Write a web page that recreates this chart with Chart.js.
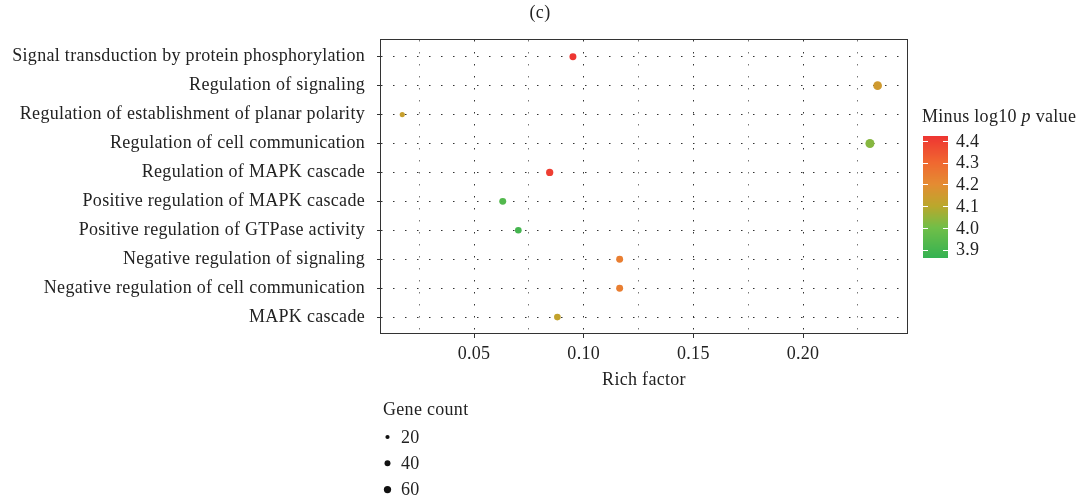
<!DOCTYPE html>
<html><head><meta charset="utf-8">
<script src="https://cdn.jsdelivr.net/npm/chart.js@4"></script>
<style>html,body{margin:0;padding:0;background:#fff}#wrap{width:1079px;height:500px;position:relative}</style>
</head><body><div id="wrap"><canvas id="c" width="1079" height="500"></canvas></div>
<script>
const categories = [
  "Signal transduction by protein phosphorylation",
  "Regulation of signaling",
  "Regulation of establishment of planar polarity",
  "Regulation of cell communication",
  "Regulation of MAPK cascade",
  "Positive regulation of MAPK cascade",
  "Positive regulation of GTPase activity",
  "Negative regulation of signaling",
  "Negative regulation of cell communication",
  "MAPK cascade"
];
const richFactor = [0.0951, 0.2340, 0.0173, 0.2305, 0.0845, 0.0631, 0.0702, 0.1164, 0.1164, 0.0880];
const geneCount = [55, 86, 30, 92, 60, 55, 50, 55, 55, 50];
const minusLog10P = [4.42, 4.15, 4.13, 4.03, 4.40, 3.93, 3.90, 4.24, 4.24, 4.12];
const xTicks = [0.025, 0.05, 0.075, 0.10, 0.125, 0.15, 0.175, 0.20, 0.225];
const xTickLabels = ["", "0.05", "", "0.10", "", "0.15", "", "0.20", ""];
const colorTicks = [4.4, 4.3, 4.2, 4.1, 4.0, 3.9];
const colorTickLabels = ["4.4", "4.3", "4.2", "4.1", "4.0", "3.9"];
const sizeLegend = [20, 40, 60];

const FONT = "'Liberation Serif', 'DejaVu Serif', serif";
const colorStops = [
  [3.86, [52, 178, 82]],
  [4.00, [112, 190, 72]],
  [4.10, [186, 168, 44]],
  [4.20, [228, 140, 50]],
  [4.30, [240, 104, 48]],
  [4.43, [238, 50, 50]]
];
function colorFor(v) {
  if (v <= colorStops[0][0]) return 'rgb(' + colorStops[0][1].join(',') + ')';
  for (let i = 1; i < colorStops.length; i++) {
    if (v <= colorStops[i][0]) {
      const [a, ca] = colorStops[i - 1], [b, cb] = colorStops[i];
      const t = (v - a) / (b - a);
      const c = ca.map((x, k) => Math.round(x + (cb[k] - x) * t));
      return 'rgb(' + c.join(',') + ')';
    }
  }
  return 'rgb(' + colorStops[colorStops.length - 1][1].join(',') + ')';
}
function radiusFor(n) { return 0.47 * Math.sqrt(n); }

const decor = {
  id: 'decor',
  beforeDraw(chart) {
    try { chart.ctx.letterSpacing = '0.3px'; } catch (e) {}
  },
  afterDraw(chart) {
    const ctx = chart.ctx;
    const a = chart.chartArea;
    ctx.save();
    try { ctx.letterSpacing = '0.3px'; } catch (e) {}
    // panel border
    ctx.strokeStyle = '#333';
    ctx.lineWidth = 1;
    ctx.strokeRect(Math.round(a.left) - 0.5, Math.round(a.top) - 0.5, Math.round(a.right - a.left) + 1, Math.round(a.bottom - a.top) + 1);
    // title
    ctx.fillStyle = '#222';
    ctx.textAlign = 'center';
    ctx.textBaseline = 'middle';
    ctx.font = '18px ' + FONT;
    ctx.fillText('(c)', 540, 13);
    // x title
    ctx.fillText('Rich factor', (a.left + a.right) / 2, 380);
    // colorbar
    const barX = 923, barW = 25, barTop = 136, barBot = 258;
    const vTop = 4.423, vBot = 3.861;
    const vy = v => barTop + (vTop - v) / (vTop - vBot) * (barBot - barTop);
    for (let y = barTop; y < barBot; y++) {
      const v = vTop - (y + 0.5 - barTop) / (barBot - barTop) * (vTop - vBot);
      ctx.fillStyle = colorFor(v);
      ctx.fillRect(barX, y, barW, 1);
    }
    ctx.strokeStyle = '#fff';
    ctx.lineWidth = 1;
    ctx.textAlign = 'left';
    ctx.fillStyle = '#222';
    ctx.font = '18px ' + FONT;
    colorTicks.forEach((v, i) => {
      const y = Math.round(vy(v)) + 0.5;
      ctx.beginPath();
      ctx.moveTo(barX, y); ctx.lineTo(barX + 5, y);
      ctx.moveTo(barX + barW - 5, y); ctx.lineTo(barX + barW, y);
      ctx.stroke();
      ctx.fillText(colorTickLabels[i], 956, vy(v) + 1);
    });
    // colorbar title
    let tx = 922;
    const ty = 117;
    ctx.fillText('Minus log10 ', tx, ty);
    tx += ctx.measureText('Minus log10 ').width;
    ctx.font = 'italic 18px ' + FONT;
    ctx.fillText('p', tx, ty);
    tx += ctx.measureText('p').width;
    ctx.font = '18px ' + FONT;
    ctx.fillText(' value', tx, ty);
    // size legend
    ctx.fillText('Gene count', 383, 410);
    sizeLegend.forEach((n, i) => {
      const y = 437 + i * 26.3;
      ctx.fillStyle = '#111';
      ctx.beginPath();
      ctx.arc(387.5, y, radiusFor(n), 0, Math.PI * 2);
      ctx.fill();
      ctx.fillStyle = '#222';
      ctx.fillText(String(n), 401, y + 1);
    });
    ctx.restore();
  }
};

new Chart(document.getElementById('c'), {
  type: 'scatter',
  data: {
    datasets: [{
      data: richFactor.map((x, i) => ({ x: x, y: i })),
      pointRadius: ctx => radiusFor(geneCount[ctx.dataIndex]),
      pointHoverRadius: ctx => radiusFor(geneCount[ctx.dataIndex]),
      pointBackgroundColor: ctx => colorFor(minusLog10P[ctx.dataIndex]),
      pointBorderWidth: 0,
      pointBorderColor: 'rgba(0,0,0,0)'
    }]
  },
  plugins: [decor],
  options: {
    responsive: false,
    animation: false,
    devicePixelRatio: 1,
    layout: { padding: { top: 40, right: 172, left: 0, bottom: 0 } },
    plugins: { legend: { display: false }, tooltip: { enabled: false } },
    scales: {
      x: {
        type: 'linear',
        min: 0.0076,
        max: 0.2474,
        afterBuildTicks: s => { s.ticks = xTicks.map(v => ({ value: v })); },
        afterFit: s => { s.height = 167; },
        ticks: {
          autoSkip: false,
          maxRotation: 0,
          padding: 5,
          color: '#222',
          font: { family: FONT, size: 18 },
          callback: (v, i) => xTickLabels[i]
        },
        grid: {
          color: c => (xTickLabels[c.index] ? '#333' : '#777'),
          lineWidth: 1,
          borderDash: [1.5, 10.5],
          tickLength: 5,
          tickColor: c => (xTickLabels[c.index] ? '#333' : 'rgba(0,0,0,0)'),
          tickBorderDash: []
        },
        border: { display: false, dash: [1.5, 10.5] }
      },
      y: {
        type: 'linear',
        reverse: true,
        min: -0.578,
        max: 9.55,
        afterBuildTicks: s => { s.ticks = categories.map((c, i) => ({ value: i })); },
        afterFit: s => { s.width = 381; },
        ticks: {
          autoSkip: false,
          padding: 12,
          color: '#222',
          font: { family: FONT, size: 18 },
          callback: (v, i) => categories[i]
        },
        grid: {
          color: '#333',
          lineWidth: 1,
          borderDash: [1.5, 10.5],
          tickLength: 4,
          tickColor: '#333',
          tickBorderDash: []
        },
        border: { display: false, dash: [1.5, 10.5] }
      }
    }
  }
});
</script>
</body></html>
